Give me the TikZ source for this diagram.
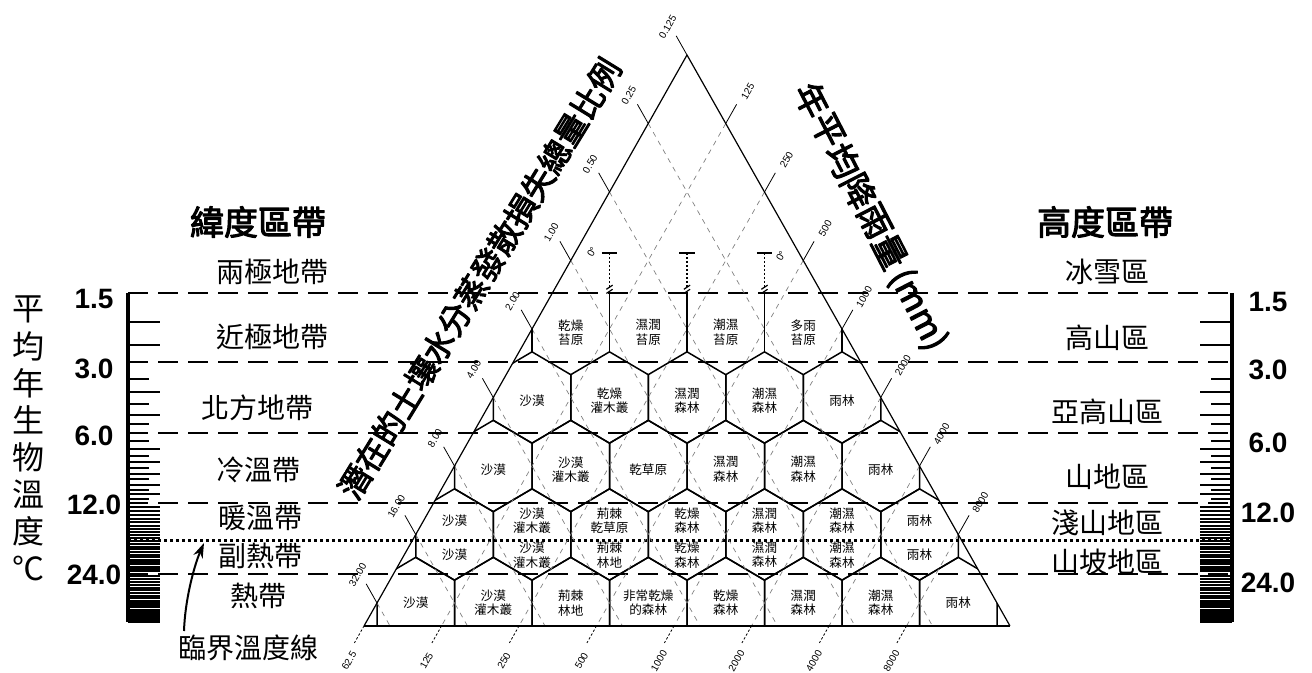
\documentclass[tikz,border=0pt]{standalone}
\usepackage{fontspec}
\setmainfont{Liberation Sans}
\newfontfamily\cjk{Noto Sans CJK TC}
\newfontfamily\cjkb[FakeBold=3]{Noto Sans CJK TC}
\usetikzlibrary{arrows.meta}
\newcommand{\tpos}[1]{293+70*ln(#1/1.5)/ln(2)}
\begin{document}
\begin{tikzpicture}[x=0.5pt, y=-0.5pt, line join=round,
    zone/.style={font=\cjk\fontsize{14}{16}\selectfont, inner sep=0pt},
    header/.style={font=\cjkb\fontsize{17}{19}\selectfont, inner sep=0pt},
    scalenum/.style={font=\bfseries\fontsize{14}{16}\selectfont, inner sep=0pt},
    biome/.style={font=\cjk\fontsize{6.3}{7.2}\selectfont, align=center, inner sep=0pt},
    ticklab/.style={font=\fontsize{5}{6}\selectfont, rotate=60, inner sep=0pt},
    axisleft/.style={font=\cjkb\fontsize{16}{18}\selectfont, rotate=58.5, inner sep=0pt},
    axisright/.style={font=\cjkb\fontsize{17}{19}\selectfont, rotate=-62.8, inner sep=0pt},
    hexline/.style={line width=0.75pt},
    belt/.style={line width=1.3pt, dash pattern=on 10pt off 5pt},
    critline/.style={line width=1.5pt, dash pattern=on 1.5pt off 1.5pt},
    guide/.style={gray, line width=0.35pt, dash pattern=on 2.5pt off 2.5pt},
    scaletick/.style={line width=1pt}]
  \useasboundingbox (0,0) rectangle (1312,673);

  \foreach \yy in {293,362,433,503,574} \draw[belt] (128,\yy) -- (1232,\yy);
  \draw[critline] (128,540) -- (1232,540);

  \begin{scope}[shift={(687,55)}, x=19.375pt, y=-34.25pt]
    \coordinate (apex) at (0,0);
    \coordinate (lcorner) at (-8.333,8.333);
    \coordinate (rcorner) at (8.333,8.333);
    \begin{scope}
      \clip (apex) -- (lcorner) -- (rcorner) -- cycle;
      \foreach \k in {5,...,8} {
        \pgfmathtruncatemacro{\cfirst}{1-\k}
        \pgfmathtruncatemacro{\cnext}{3-\k}
        \pgfmathtruncatemacro{\clast}{\k-1}
        \foreach \c in {\cfirst,\cnext,...,\clast}
          \draw[hexline] (\c,\k-2/3) -- (\c+1,\k-1/3) -- (\c+1,\k+1/3) -- (\c,\k+2/3) -- (\c-1,\k+1/3) -- (\c-1,\k-1/3) -- cycle;
      }
    \end{scope}
    \foreach \k in {1,...,8} \draw[guide] (-\k,\k) -- ({8.333-2*\k},8.333);
    \foreach \k in {1,...,7} \draw[guide] (\k,\k) -- ({2*\k-8.333},8.333);
    \draw[line width=0.6pt] (lcorner) -- (apex) -- (rcorner);
    \draw[line width=1.1pt] (lcorner) -- (rcorner);

    \foreach \c in {-2,0,2} {
      \draw[hexline] (\c,3.47) -- (\c,4.333);
      \draw[line width=0.8pt, dash pattern=on 1pt off 1pt] (\c,2.89) -- (\c,3.40);
      \draw[line width=0.8pt] (\c-0.2,2.89) -- (\c+0.2,2.89);
      \draw[line width=0.6pt] (\c-0.08,3.42) -- (\c+0.08,3.36);
      \draw[line width=0.6pt] (\c-0.08,3.48) -- (\c+0.08,3.42);
    }
    \draw[hexline] (-4,4) -- (-4,4.333);
    \draw[hexline] (4,4) -- (4,4.333);

    \foreach \v [count=\k from 0] in {0.125,0.25,0.50,1.00,2.00,4.00,8.00,16.00,32.00} {
      \draw[line width=0.4pt] (-\k,\k) -- ++(-0.28,-0.28);
      \node[ticklab] (pet\k) at ({-\k-0.5},{\k-0.41}) {\v};
    }
    \foreach \v [count=\k] in {125,250,500,1000,2000,4000,8000} {
      \draw[line width=0.4pt] (\k,\k) -- ++(0.28,-0.28);
      \node[ticklab] (rain\k) at ({\k+0.57},{\k-0.47}) {\v};
    }
    \foreach \v [count=\k from 0] in {62.5,125,250,500,1000,2000,4000,8000} {
      \draw[line width=0.4pt, dash pattern=on 1.2pt off 1pt] ({2*\k-8.333},8.333) -- ++(-0.25,0.25);
      \node[ticklab] (base\k) at ({2*\k-8.333-0.39},8.843) {\v};
    }

    \foreach \c/\txt [count=\i] in {-3/{乾燥\\苔原},-1/{濕潤\\苔原},1/{潮濕\\苔原},3/{多雨\\苔原}}
      \node[biome] (tundra\i) at (\c,4.05) {\txt};
    \foreach \c/\txt [count=\i] in {-4/沙漠,-2/{乾燥\\灌木叢},0/{濕潤\\森林},2/{潮濕\\森林},4/雨林}
      \node[biome] (boreal\i) at (\c,5.05) {\txt};
    \foreach \c/\txt [count=\i] in {-5/沙漠,-3/{沙漠\\灌木叢},-1/乾草原,1/{濕潤\\森林},3/{潮濕\\森林},5/雨林}
      \node[biome] (cool\i) at (\c,6.05) {\txt};
    \foreach \c/\txt [count=\i] in {-6/沙漠,-4/{沙漠\\灌木叢},-2/{荊棘\\乾草原},0/{乾燥\\森林},2/{濕潤\\森林},4/{潮濕\\森林},6/雨林}
      \node[biome] (warm\i) at (\c,6.80) {\txt};
    \foreach \c/\txt [count=\i] in {-6/沙漠,-4/{沙漠\\灌木叢},-2/{荊棘\\林地},0/{乾燥\\森林},2/{濕潤\\森林},4/{潮濕\\森林},6/雨林}
      \node[biome] (subtrop\i) at (\c,7.30) {\txt};
    \foreach \c/\txt [count=\i] in {-7/沙漠,-5/{沙漠\\灌木叢},-3/{荊棘\\林地},-1/{非常乾燥\\的森林},1/{乾燥\\森林},3/{濕潤\\森林},5/{潮濕\\森林},7/雨林}
      \node[biome] (trop\i) at (\c,8.0) {\txt};
  \end{scope}

  \node[ticklab] (zeroleft) at (592,252) {0°};
  \node[ticklab] (zeroright) at (781,256) {0°};

  \draw[line width=1.6pt] (128,293) -- (128,622);
  \draw[line width=1.6pt] (1232,293) -- (1232,622);
  \foreach \t in {2,2.5,4,5,7,8,...,11,12.5,13,...,23.5,24.75,25.5,...,39} {
    \draw[scaletick] (128,{\tpos{\t}}) -- ++(32,0);
    \draw[scaletick] (1232,{\tpos{\t}}) -- ++(-32,0);
  }
  \foreach \t in {3.5,4.5,5.5,6.5,7.5,...,11.5} {
    \draw[scaletick] (128,{\tpos{\t}}) -- ++(21,0);
    \draw[scaletick] (1232,{\tpos{\t}}) -- ++(-21,0);
  }

  \foreach \v/\yy [count=\i] in {1.5/299,3.0/369,6.0/436,12.0/505,24.0/575}
    \node[scalenum] (lnum\i) at (94,\yy) {\v};
  \foreach \v/\yy [count=\i] in {1.5/302,3.0/370,6.0/443,12.0/513,24.0/583}
    \node[scalenum] (rnum\i) at (1268,\yy) {\v};

  \foreach \ch [count=\i] in {平,均,年,生,物,溫,度,℃}
    \node[font=\cjk\fontsize{16}{18}\selectfont, inner sep=0pt] (vt\i) at (28,{309+37*(\i-1)}) {\ch};

  \node[header] (latitude) at (258,222) {緯度區帶};
  \node[zone] (polar) at (272,272) {兩極地帶};
  \node[zone] (subpolar) at (272,337) {近極地帶};
  \node[zone] (boreal) at (257,408) {北方地帶};
  \node[zone] (cooltemp) at (258,470) {冷溫帶};
  \node[zone] (warmtemp) at (260,518) {暖溫帶};
  \node[zone] (subtropic) at (260,556) {副熱帶};
  \node[zone] (tropic) at (258,596) {熱帶};
  \node[zone] (critlabel) at (248,648) {臨界溫度線};

  \node[header] (altitude) at (1105,222) {高度區帶};
  \node[zone] (nival) at (1107,272) {冰雪區};
  \node[zone] (alpine) at (1107,338) {高山區};
  \node[zone] (subalpine) at (1107,412) {亞高山區};
  \node[zone] (montane) at (1107,477) {山地區};
  \node[zone] (lowmontane) at (1107,523) {淺山地區};
  \node[zone] (premontane) at (1107,562) {山坡地區};

  \foreach \ch [count=\i] in {潛,在,的,土,壤,水,分,蒸,發,散,損,失,總,量,比,例}
    \node[axisleft] (petaxis\i) at ({355+16.6*(\i-1)},{482-27.13*(\i-1)}) {\ch};
  \foreach \ch [count=\i] in {年,平,均,降,雨,量}
    \node[axisright] (rainaxis\i) at ({812+15.6*(\i-1)},{100+30.3*(\i-1)}) {\ch};
  \node[axisright] (rainunit) at (918,310) {(mm)};

  \coordinate (crittail) at (184,631);
  \coordinate (critpt) at (204,543);
  \draw[line width=1pt, -{Stealth[length=7.5pt, width=5pt]}] (crittail) .. controls (185,600) and (194,566) .. (critpt);
\end{tikzpicture}
\end{document}
